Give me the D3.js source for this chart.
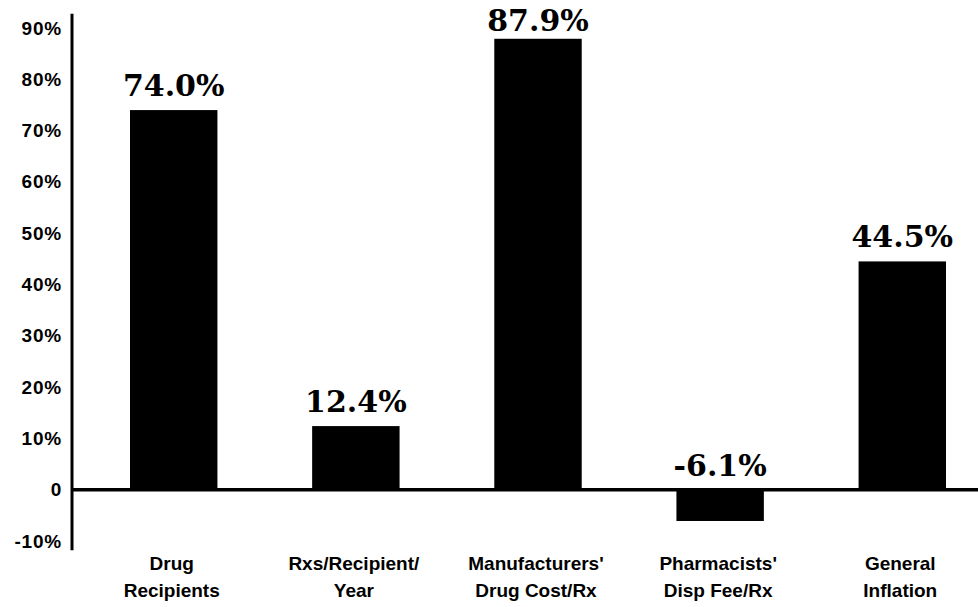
<!DOCTYPE html>
<html>
<head>
<meta charset="utf-8">
<script src="https://cdn.jsdelivr.net/npm/d3@7"></script>
<style>
  html, body { margin: 0; padding: 0; background: #fff; }
  svg { display: block; }
</style>
</head>
<body>
<svg id="chart" width="978" height="607"></svg>
<script>
// Percent change by cost component
const categories = [
  ["Drug", "Recipients"],
  ["Rxs/Recipient/", "Year"],
  ["Manufacturers'", "Drug Cost/Rx"],
  ["Pharmacists'", "Disp Fee/Rx"],
  ["General", "Inflation"]
];
const values = [74.0, 12.4, 87.9, -6.1, 44.5];
const valueLabels = ["74.0%", "12.4%", "87.9%", "-6.1%", "44.5%"];
const tickValues = [-10, 0, 10, 20, 30, 40, 50, 60, 70, 80, 90];
const tickLabels = ["-10%", "0", "10%", "20%", "30%", "40%", "50%", "60%", "70%", "80%", "90%"];

const svg = d3.select("#chart");
const axisX = 72;

const y = d3.scaleLinear().domain([-10, 90]).range([541, 28]);
const x = d3.scaleBand()
  .domain(d3.range(values.length))
  .range([130, 946])
  .paddingInner(0.52)
  .paddingOuter(0);

// Bars
svg.append("g")
  .selectAll("rect")
  .data(values)
  .join("rect")
  .attr("x", (d, i) => x(i))
  .attr("width", x.bandwidth())
  .attr("y", d => y(Math.max(d, 0)))
  .attr("height", d => Math.abs(y(d) - y(0)))
  .attr("fill", "#000");

// Zero baseline across the plot
svg.append("line")
  .attr("x1", axisX).attr("x2", 978)
  .attr("y1", y(0)).attr("y2", y(0))
  .attr("stroke", "#000").attr("stroke-width", 3.5);

// Y axis
const yAxis = d3.axisLeft(y)
  .tickValues(tickValues)
  .tickFormat((d, i) => tickLabels[i])
  .tickSize(0)
  .tickPadding(10);

const gy = svg.append("g")
  .attr("transform", `translate(${axisX},0)`)
  .call(yAxis);
gy.select(".domain").remove();
gy.selectAll("text")
  .attr("font-family", "'Liberation Sans', Arial, sans-serif")
  .attr("font-weight", "bold")
  .attr("font-size", 19)
  .attr("letter-spacing", 0.8)
  .attr("fill", "#000");

svg.append("line")
  .attr("x1", axisX).attr("x2", axisX)
  .attr("y1", y(92.8)).attr("y2", y(-11.8))
  .attr("stroke", "#000").attr("stroke-width", 3);

// Value labels above each bar (or above the baseline for negatives);
// kept inside the top edge for the tallest bar
svg.append("g")
  .selectAll("text")
  .data(values)
  .join("text")
  .attr("x", (d, i) => x(i) + x.bandwidth() / 2)
  .attr("y", d => Math.max(y(Math.max(d, 0)) - 14, 31))
  .attr("text-anchor", "middle")
  .attr("font-family", "'DejaVu Serif', serif")
  .attr("font-weight", "bold")
  .attr("font-size", 30)
  .attr("fill", "#000")
  .text((d, i) => valueLabels[i]);

// Category labels (two lines each)
const cat = svg.append("g")
  .selectAll("text")
  .data(categories)
  .join("text")
  .attr("x", (d, i) => x(i) + x.bandwidth() / 2 - 2)
  .attr("y", 570)
  .attr("text-anchor", "middle")
  .attr("font-family", "'Liberation Sans', Arial, sans-serif")
  .attr("font-weight", "bold")
  .attr("font-size", 19)
  .attr("fill", "#000");
cat.selectAll("tspan")
  .data(d => d)
  .join("tspan")
  .attr("x", function () { return d3.select(this.parentNode).attr("x"); })
  .attr("dy", (d, i) => i === 0 ? 0 : 27)
  .text(d => d);
</script>
</body>
</html>
